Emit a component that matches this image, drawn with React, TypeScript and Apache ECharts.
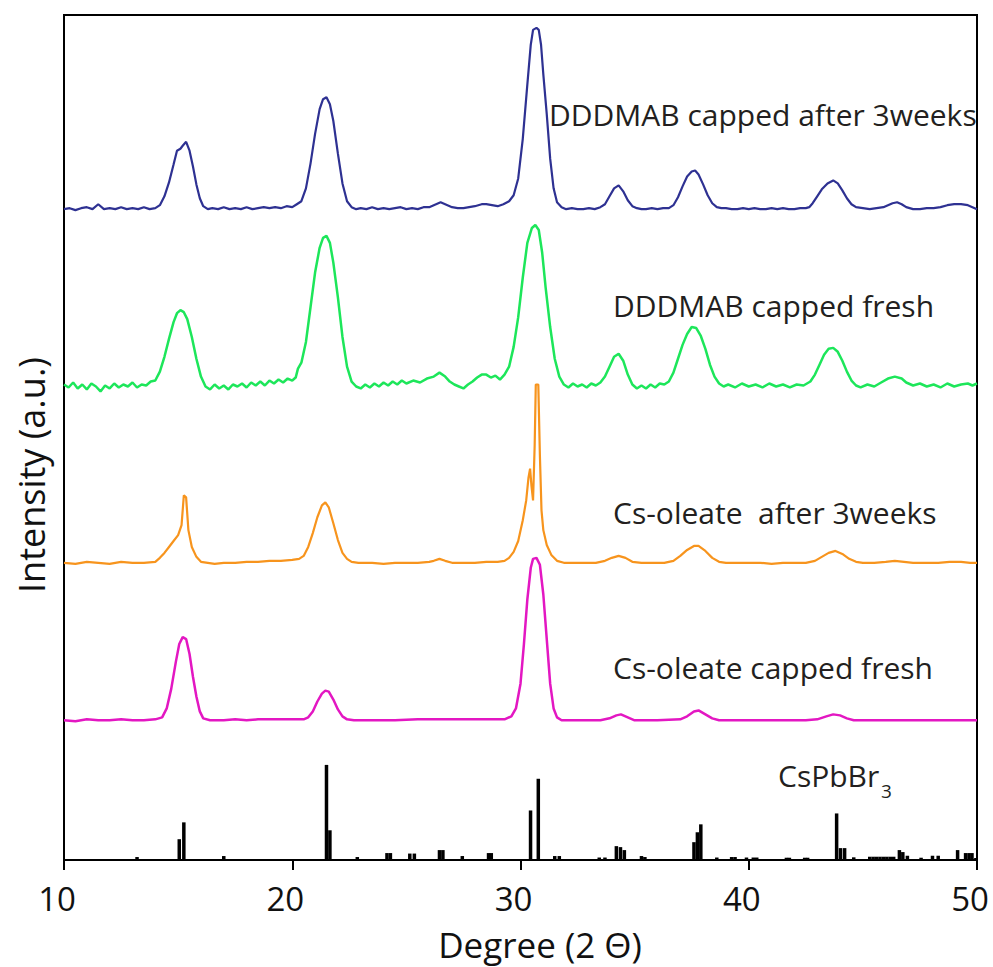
import React, { useEffect, useRef } from "react";
import * as echarts from "echarts";

// Intensities (a.u.), stacked traces
const DDDMAB_3WEEKS: [number, number][] = [
  [10.0, 657], [10.25, 658], [10.5, 656], [10.75, 658], [11.0, 659], [11.25, 657], [11.5, 662], [11.75, 657],
  [12.0, 658], [12.25, 657], [12.5, 659], [12.75, 657], [13.0, 658], [13.25, 657], [13.5, 659], [13.75, 657],
  [14.0, 658], [14.2, 661], [14.4, 670], [14.6, 684], [14.8, 702], [14.95, 716], [15.1, 718], [15.2, 721],
  [15.35, 725], [15.5, 716], [15.65, 700], [15.8, 682], [15.95, 668], [16.1, 660], [16.3, 657], [16.5, 658],
  [16.75, 657], [17.0, 659], [17.25, 657], [17.5, 658], [17.75, 657], [18.0, 659], [18.25, 657], [18.5, 658],
  [18.75, 659], [19.0, 658], [19.25, 659], [19.5, 658], [19.75, 660], [20.0, 659], [20.2, 662], [20.4, 665],
  [20.6, 678], [20.8, 703], [21.0, 733], [21.2, 758], [21.35, 768], [21.5, 770], [21.65, 763], [21.8, 746],
  [22.0, 713], [22.2, 683], [22.4, 665], [22.6, 659], [22.8, 657], [23.0, 658], [23.25, 657], [23.5, 659],
  [23.75, 657], [24.0, 658], [24.25, 657], [24.5, 658], [24.75, 659], [25.0, 657], [25.25, 658], [25.5, 657],
  [25.75, 659], [26.0, 659], [26.3, 662], [26.5, 664], [26.7, 662], [27.0, 659], [27.25, 658], [27.5, 658],
  [27.75, 659], [28.0, 660], [28.3, 662], [28.5, 662], [28.75, 661], [29.0, 660], [29.25, 662], [29.5, 665],
  [29.7, 671], [29.9, 688], [30.1, 728], [30.3, 783], [30.45, 823], [30.55, 838], [30.7, 840], [30.8, 838],
  [30.9, 823], [31.0, 793], [31.15, 753], [31.3, 708], [31.45, 678], [31.6, 664], [31.8, 659], [32.0, 657],
  [32.25, 658], [32.5, 657], [32.75, 657], [33.0, 658], [33.25, 657], [33.5, 659], [33.7, 662], [33.9, 670],
  [34.1, 678], [34.3, 681], [34.5, 675], [34.7, 666], [34.9, 660], [35.1, 658], [35.3, 657], [35.5, 657],
  [35.75, 658], [36.0, 657], [36.25, 658], [36.5, 658], [36.7, 661], [36.9, 669], [37.1, 680], [37.3, 690],
  [37.5, 695], [37.65, 696], [37.8, 692], [38.0, 682], [38.2, 671], [38.4, 663], [38.6, 659], [38.8, 658],
  [39.0, 658], [39.25, 657], [39.5, 657], [39.75, 658], [40.0, 657], [40.25, 658], [40.5, 657], [40.75, 657],
  [41.0, 658], [41.25, 657], [41.5, 658], [41.75, 657], [42.0, 657], [42.25, 658], [42.5, 658], [42.65, 659],
  [42.8, 663], [43.0, 670], [43.2, 677], [43.45, 683], [43.7, 686], [43.9, 683], [44.1, 676], [44.3, 668],
  [44.5, 662], [44.7, 659], [45.0, 658], [45.3, 657], [45.6, 658], [45.9, 659], [46.1, 661], [46.3, 663],
  [46.5, 664], [46.7, 662], [46.9, 659], [47.2, 657], [47.5, 657], [47.8, 658], [48.1, 658], [48.4, 659],
  [48.7, 661], [49.0, 662], [49.3, 662], [49.6, 661], [49.8, 659], [50.0, 657],
];

const DDDMAB_FRESH: [number, number][] = [
  [10.0, 480], [10.2, 477], [10.4, 482], [10.6, 476], [10.8, 480], [11.0, 475], [11.2, 481], [11.4, 478],
  [11.6, 473], [11.8, 479], [12.0, 476], [12.2, 481], [12.4, 477], [12.6, 480], [12.8, 478], [13.0, 482],
  [13.2, 477], [13.4, 480], [13.6, 479], [13.8, 483], [14.0, 484], [14.2, 493], [14.4, 508], [14.6, 526],
  [14.8, 543], [14.95, 552], [15.1, 555], [15.25, 553], [15.4, 546], [15.6, 528], [15.8, 506], [16.0, 488],
  [16.2, 478], [16.4, 475], [16.6, 480], [16.8, 476], [17.0, 479], [17.2, 475], [17.4, 480], [17.6, 478],
  [17.8, 481], [18.0, 477], [18.2, 482], [18.4, 479], [18.6, 483], [18.8, 479], [19.0, 484], [19.2, 481],
  [19.4, 485], [19.6, 482], [19.8, 486], [20.0, 484], [20.15, 487], [20.25, 496], [20.4, 502], [20.6, 523],
  [20.8, 558], [21.0, 593], [21.2, 618], [21.35, 628], [21.5, 630], [21.65, 623], [21.8, 603], [22.0, 568],
  [22.2, 528], [22.4, 498], [22.6, 483], [22.8, 478], [23.0, 476], [23.2, 480], [23.4, 477], [23.6, 481],
  [23.8, 478], [24.0, 482], [24.2, 479], [24.4, 483], [24.6, 480], [24.8, 484], [25.0, 481], [25.3, 484],
  [25.6, 482], [25.9, 486], [26.2, 488], [26.45, 492], [26.7, 488], [26.9, 483], [27.1, 480], [27.3, 478],
  [27.5, 476], [27.7, 480], [27.9, 483], [28.1, 487], [28.3, 490], [28.5, 490], [28.7, 487], [28.9, 489],
  [29.1, 485], [29.3, 490], [29.5, 498], [29.7, 518], [29.9, 548], [30.1, 588], [30.3, 623], [30.5, 638],
  [30.65, 641], [30.8, 636], [30.95, 613], [31.1, 578], [31.3, 538], [31.5, 506], [31.7, 488], [31.9, 480],
  [32.1, 477], [32.3, 481], [32.5, 478], [32.7, 480], [32.9, 477], [33.1, 481], [33.3, 479], [33.5, 482],
  [33.7, 488], [33.9, 498], [34.1, 508], [34.3, 511], [34.5, 504], [34.7, 490], [34.9, 480], [35.1, 476],
  [35.3, 479], [35.5, 476], [35.7, 480], [35.9, 477], [36.1, 481], [36.3, 480], [36.5, 483], [36.7, 492],
  [36.9, 506], [37.1, 520], [37.3, 531], [37.5, 538], [37.7, 537], [37.9, 529], [38.1, 516], [38.3, 500],
  [38.5, 488], [38.7, 481], [38.9, 478], [39.1, 480], [39.4, 477], [39.7, 481], [40.0, 478], [40.3, 480],
  [40.6, 477], [40.9, 481], [41.2, 478], [41.5, 480], [41.8, 477], [42.1, 480], [42.4, 479], [42.7, 483],
  [42.9, 490], [43.1, 500], [43.3, 510], [43.5, 516], [43.7, 517], [43.9, 513], [44.1, 504], [44.3, 493],
  [44.5, 484], [44.7, 479], [44.9, 477], [45.2, 480], [45.5, 478], [45.8, 482], [46.1, 486], [46.4, 488],
  [46.7, 486], [46.9, 482], [47.2, 479], [47.5, 481], [47.8, 478], [48.1, 480], [48.4, 477], [48.7, 481],
  [49.0, 478], [49.3, 480], [49.6, 481], [49.8, 479], [50.0, 481],
];

const CS_OLEATE_3WEEKS: [number, number][] = [
  [10.0, 300], [10.5, 299], [11.0, 301], [11.5, 300], [12.0, 299], [12.5, 301], [13.0, 300], [13.5, 300],
  [14.0, 301], [14.2, 305], [14.4, 310], [14.6, 316], [14.8, 322], [15.0, 328], [15.15, 338], [15.25, 368],
  [15.35, 366], [15.45, 333], [15.6, 316], [15.8, 306], [16.0, 301], [16.3, 300], [16.6, 299], [17.0, 300],
  [17.5, 300], [18.0, 301], [18.5, 301], [19.0, 302], [19.5, 302], [20.0, 303], [20.3, 304], [20.5, 307],
  [20.7, 316], [20.9, 330], [21.1, 346], [21.3, 358], [21.45, 361], [21.6, 356], [21.8, 340], [22.0, 323],
  [22.2, 310], [22.4, 304], [22.6, 301], [22.9, 300], [23.5, 300], [24.0, 299], [24.5, 300], [25.0, 300],
  [25.5, 300], [26.0, 301], [26.2, 302], [26.45, 304], [26.7, 302], [27.0, 300], [27.5, 300], [28.0, 300],
  [28.5, 301], [29.0, 301], [29.3, 302], [29.5, 305], [29.7, 311], [29.9, 322], [30.1, 343], [30.25, 363],
  [30.35, 386], [30.42, 395], [30.48, 378], [30.55, 363], [30.62, 418], [30.67, 480], [30.78, 480],
  [30.85, 408], [30.92, 353], [31.0, 333], [31.15, 318], [31.35, 308], [31.6, 302], [31.9, 300], [32.3, 300],
  [32.8, 300], [33.3, 300], [33.7, 302], [34.0, 305], [34.3, 307], [34.6, 305], [34.9, 301], [35.3, 300],
  [35.8, 300], [36.3, 300], [36.7, 302], [37.0, 307], [37.3, 313], [37.6, 317], [37.8, 317], [38.1, 312],
  [38.4, 305], [38.7, 301], [39.0, 300], [39.5, 300], [40.0, 300], [40.5, 300], [41.0, 299], [41.5, 300],
  [42.0, 300], [42.5, 300], [42.9, 302], [43.2, 306], [43.5, 310], [43.8, 312], [44.1, 309], [44.4, 304],
  [44.7, 301], [45.0, 300], [45.5, 300], [46.0, 301], [46.4, 302], [46.8, 301], [47.2, 300], [47.8, 300],
  [48.3, 300], [48.8, 301], [49.3, 301], [49.7, 300], [50.0, 300],
];

const CS_OLEATE_FRESH: [number, number][] = [
  [10.0, 141], [10.5, 140], [11.0, 142], [11.5, 141], [12.0, 141], [12.5, 142], [13.0, 141], [13.5, 141],
  [14.0, 142], [14.3, 144], [14.5, 153], [14.7, 173], [14.9, 200], [15.05, 218], [15.2, 225], [15.35, 223],
  [15.5, 208], [15.65, 185], [15.8, 165], [15.95, 150], [16.1, 143], [16.4, 141], [17.0, 141], [17.5, 142],
  [18.0, 141], [18.5, 142], [19.0, 142], [19.5, 142], [20.0, 142], [20.5, 142], [20.7, 144], [20.9, 150],
  [21.1, 160], [21.3, 168], [21.45, 171], [21.6, 170], [21.8, 162], [22.0, 152], [22.2, 145], [22.4, 142],
  [22.7, 141], [23.5, 141], [24.5, 141], [25.5, 142], [26.5, 142], [27.5, 142], [28.5, 142], [29.3, 142],
  [29.6, 145], [29.8, 153], [30.0, 178], [30.15, 218], [30.3, 263], [30.45, 295], [30.55, 304], [30.7, 305],
  [30.85, 298], [31.0, 268], [31.15, 223], [31.3, 178], [31.45, 153], [31.6, 144], [31.8, 141], [32.5, 141],
  [33.5, 141], [33.9, 143], [34.2, 146], [34.4, 147], [34.7, 144], [35.0, 141], [36.0, 141], [37.0, 142],
  [37.3, 145], [37.6, 150], [37.8, 151], [38.1, 147], [38.4, 143], [38.7, 141], [39.5, 141], [40.5, 141],
  [41.5, 141], [42.5, 141], [43.0, 142], [43.4, 145], [43.7, 147], [44.0, 146], [44.3, 143], [44.6, 141],
  [45.5, 141], [46.5, 141], [47.5, 141], [48.5, 141], [49.5, 141], [50.0, 141],
];

// CsPbBr3 reference pattern: [2θ, relative intensity]
const CSPBBR3_REF: [number, number][] = [
  [13.2, 3], [15.05, 21], [15.25, 38], [17.0, 4], [21.5, 96], [21.65, 30], [22.85, 3], [24.15, 7], [24.3, 7],
  [25.15, 6.5], [25.35, 6.5], [26.45, 10], [26.6, 10], [27.45, 4], [28.6, 7], [28.72, 7], [30.44, 50],
  [30.78, 82], [31.5, 4], [31.7, 4], [33.45, 2.5], [33.7, 2.5], [34.2, 14], [34.38, 13], [34.55, 10],
  [35.3, 4], [35.45, 3], [37.6, 18], [37.75, 28], [37.9, 36], [38.6, 2.5], [39.25, 3], [39.4, 3], [39.9, 2.5],
  [40.2, 2.5], [40.35, 2.5], [41.65, 2.3], [41.78, 2.3], [42.45, 2.3], [42.58, 2.3], [43.85, 47], [44.02, 12],
  [44.2, 12], [44.6, 2.7], [45.3, 3.3], [45.45, 3.3], [45.6, 3.3], [45.75, 3.3], [45.9, 3.3], [46.05, 3.3],
  [46.2, 3.3], [46.35, 3.3], [46.6, 10], [46.75, 8], [46.95, 4.3], [47.55, 2.3], [48.05, 4.3], [48.3, 4.3],
  [49.15, 10], [49.5, 7], [49.65, 7], [49.78, 7], [49.95, 2],
];

const SERIES_NAMES = [
  "DDDMAB capped after 3weeks",
  "DDDMAB capped fresh",
  "Cs-oleate  after 3weeks",
  "Cs-oleate capped fresh",
];
const SERIES_COLORS = ["#2e3192", "#1de65a", "#f7941d", "#e317c2"];
const REF_NAME = "CsPbBr";
const REF_SUB = "3";
const X_TITLE = "Degree (2 Θ)";
const Y_TITLE = "Intensity (a.u.)";

const FONT = "'Open Sans', 'Noto Sans', sans-serif";

export default function App() {
  const ref = useRef<HTMLDivElement>(null);
  useEffect(() => {
    const chart = echarts.init(ref.current!, null, { renderer: "svg" });
    const traces = [DDDMAB_3WEEKS, DDDMAB_FRESH, CS_OLEATE_3WEEKS, CS_OLEATE_FRESH];
    const labelPos = [
      [549, 114],
      [613, 305],
      [613, 512],
      [613, 667],
    ];
    chart.setOption({
      animation: false,
      grid: {
        left: 64,
        right: 16,
        top: 15,
        bottom: 99,
        show: true,
        borderColor: "#000",
        borderWidth: 2,
        backgroundColor: "transparent",
      },
      xAxis: {
        type: "value",
        min: 10,
        max: 50,
        interval: 10,
        axisLine: { lineStyle: { color: "#000", width: 2 } },
        axisTick: { length: 10, lineStyle: { color: "#000", width: 2 } },
        axisLabel: {
          fontSize: 33,
          fontFamily: FONT,
          color: "#111",
          margin: 22,
          padding: [0, 14, 0, 0],
        },
        splitLine: { show: false },
        name: X_TITLE,
        nameLocation: "middle",
        nameGap: 67,
        nameTextStyle: { fontSize: 35, fontFamily: FONT, color: "#111", padding: [0, 0, 0, 39] },
      },
      yAxis: {
        type: "value",
        min: 0,
        max: 853,
        axisLine: { show: true, lineStyle: { color: "#000", width: 2 } },
        axisTick: { show: false },
        axisLabel: { show: false },
        splitLine: { show: false },
      },
      series: [
        {
          type: "bar",
          name: REF_NAME + REF_SUB,
          data: CSPBBR3_REF,
          barWidth: 3.5,
          itemStyle: { color: "#000" },
        },
        ...traces.map((d, i) => ({
          type: "line",
          name: SERIES_NAMES[i],
          data: d,
          showSymbol: false,
          symbol: "none",
          lineStyle: { width: i === 3 || i === 1 ? 2.5 : 2.2, color: SERIES_COLORS[i] },
          itemStyle: { color: SERIES_COLORS[i] },
        })),
      ],
      graphic: [
        ...SERIES_NAMES.map((t, i) => ({
          type: "text",
          x: labelPos[i][0],
          y: labelPos[i][1],
          style: {
            text: t,
            fontSize: 30,
            fontFamily: FONT,
            fill: "#231f20",
            align: "left",
            verticalAlign: "middle",
          },
        })),
        {
          type: "text",
          x: 778,
          y: 775,
          style: {
            text: REF_NAME,
            fontSize: 30,
            fontFamily: FONT,
            fill: "#231f20",
            align: "left",
            verticalAlign: "middle",
          },
        },
        {
          type: "text",
          x: 881,
          y: 791,
          style: {
            text: REF_SUB,
            fontSize: 19,
            fontFamily: FONT,
            fill: "#231f20",
            align: "left",
            verticalAlign: "middle",
          },
        },
        {
          type: "text",
          x: 31,
          y: 475,
          rotation: Math.PI / 2,
          style: {
            text: Y_TITLE,
            fontSize: 36,
            fontFamily: FONT,
            fill: "#111",
            align: "center",
            verticalAlign: "middle",
          },
        },
      ],
    });
    return () => chart.dispose();
  }, []);
  return (
    <div
      ref={ref}
      style={{ position: "absolute", left: 0, top: 0, width: 993, height: 967 }}
    />
  );
}
